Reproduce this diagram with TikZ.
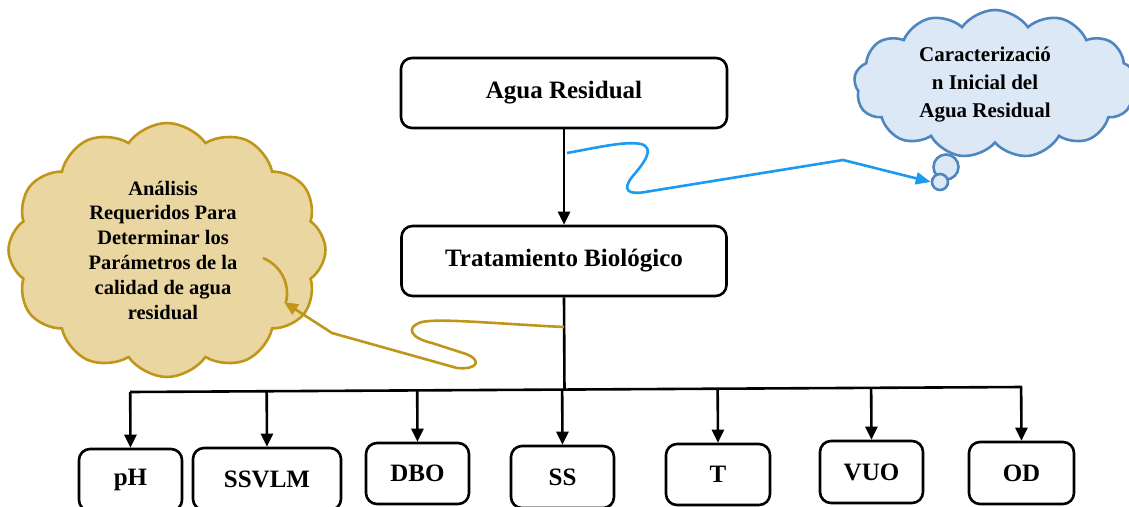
\documentclass[tikz,border=0pt]{standalone}
\usepackage{fontspec}
\setmainfont{Liberation Serif}
\usetikzlibrary{arrows.meta,shapes.symbols,calc}
\definecolor{gold}{HTML}{C0961A}
\definecolor{parch}{HTML}{E9D6A0}
\definecolor{cloudblue}{HTML}{4F86C0}
\definecolor{skyfill}{HTML}{DCE8F5}
\definecolor{arrowblue}{HTML}{1A9AF0}
\begin{document}
\begin{tikzpicture}[x=1pt,y=-1pt,
  box/.style={draw, line width=2.6pt, rounded corners=11pt, inner sep=0pt,
    font=\fontsize{25}{30}\selectfont\bfseries},
  arr/.style={line width=2.6pt, -{Triangle[length=13pt,width=12pt]}},
  ln/.style={line width=2.6pt},
  cloudtxt/.style={align=center, font=\fontsize{20.5}{24.8}\selectfont\bfseries},
  cloudtxtb/.style={align=center, font=\fontsize{21}{28}\selectfont\bfseries},
]
\useasboundingbox (0,0) rectangle (1129,506);
% clouds
\node[cloud, cloud puffs=12, cloud puff arc=110, cloud ignores aspect,
  minimum width=317pt, minimum height=254pt, draw=gold, fill=parch,
  line width=2.6pt] (cL) at (167,250) {};
\draw[gold, line width=2.6pt] (263,258) .. controls (282,266) and (290,285) .. (286,302);
\node[cloudtxt] (tL) at (163,250) {Análisis\\Requeridos Para\\Determinar los\\Parámetros de la\\calidad de agua\\residual};
\node[cloud, cloud puffs=13, cloud puff arc=110, cloud ignores aspect,
  minimum width=282pt, minimum height=148pt, draw=cloudblue, fill=skyfill,
  line width=2.6pt] (cR) at (995,84) {};
\node[circle, draw=cloudblue, fill=skyfill, line width=2.6pt, minimum size=25pt, inner sep=0pt] (b1) at (946,167) {};
\node[circle, draw=cloudblue, fill=skyfill, line width=2.6pt, minimum size=16pt, inner sep=0pt] (b2) at (940,182) {};
\node[cloudtxtb] (tR) at (985,85) {Caracterizació\\n Inicial del\\Agua Residual};
% main boxes
\node[box, minimum width=326pt, minimum height=70pt] (agua) at (564,93) {Agua Residual};
\node[box, minimum width=325pt, minimum height=70pt] (trat) at (564,261) {Tratamiento Biológico};
\draw[arr] (agua.south) -- (trat.north);
% bottom boxes
\node[box, minimum width=103pt, minimum height=62pt] (ph) at (130.5,480) {pH};
\node[box, minimum width=148pt, minimum height=62pt] (ssvlm) at (267,479) {SSVLM};
\node[box, minimum width=103pt, minimum height=61pt] (dbo) at (417.5,473.5) {DBO};
\node[box, minimum width=103pt, minimum height=62pt] (ss) at (562.5,477) {SS};
\node[box, minimum width=104pt, minimum height=61pt] (t) at (718,474.5) {T};
\node[box, minimum width=103pt, minimum height=62pt] (vuo) at (871.5,472) {VUO};
\node[box, minimum width=105pt, minimum height=62pt] (od) at (1021.5,473) {OD};
% bus
\coordinate (busL) at (130,392);
\coordinate (busR) at (1022,387);
\draw[ln] (busL) -- (busR);
\draw[ln] (trat.south) -- ($(busL)!(trat.south)!(busR)$);
\foreach \n in {ph,ssvlm,dbo,ss,t,vuo,od}
  \draw[arr] ($(busL)!(\n.north)!(busR)$) -- (\n.north);
% curvy connectors
\coordinate (gs) at (564,327);
\draw[gold, line width=2.6pt, -{Triangle[length=14pt,width=12pt]}]
  (gs) .. controls (500,324) and (440,318) .. (422,322)
  .. controls (405,327) and (410,338) .. (432,343)
  -- (466,354) .. controls (482,360) and (478,370) .. (457,368)
  -- (332,333) -- (284,302);
\coordinate (bs) at (567,153);
\draw[arrowblue, line width=2.6pt, -{Triangle[length=15pt,width=12pt]}]
  (bs) .. controls (600,147) and (625,141) .. (641,144)
  .. controls (655,148) and (645,162) .. (632,177)
  .. controls (622,190) and (628,195) .. (645,192)
  -- (843,160) -- (b2.west);
\end{tikzpicture}
\end{document}
